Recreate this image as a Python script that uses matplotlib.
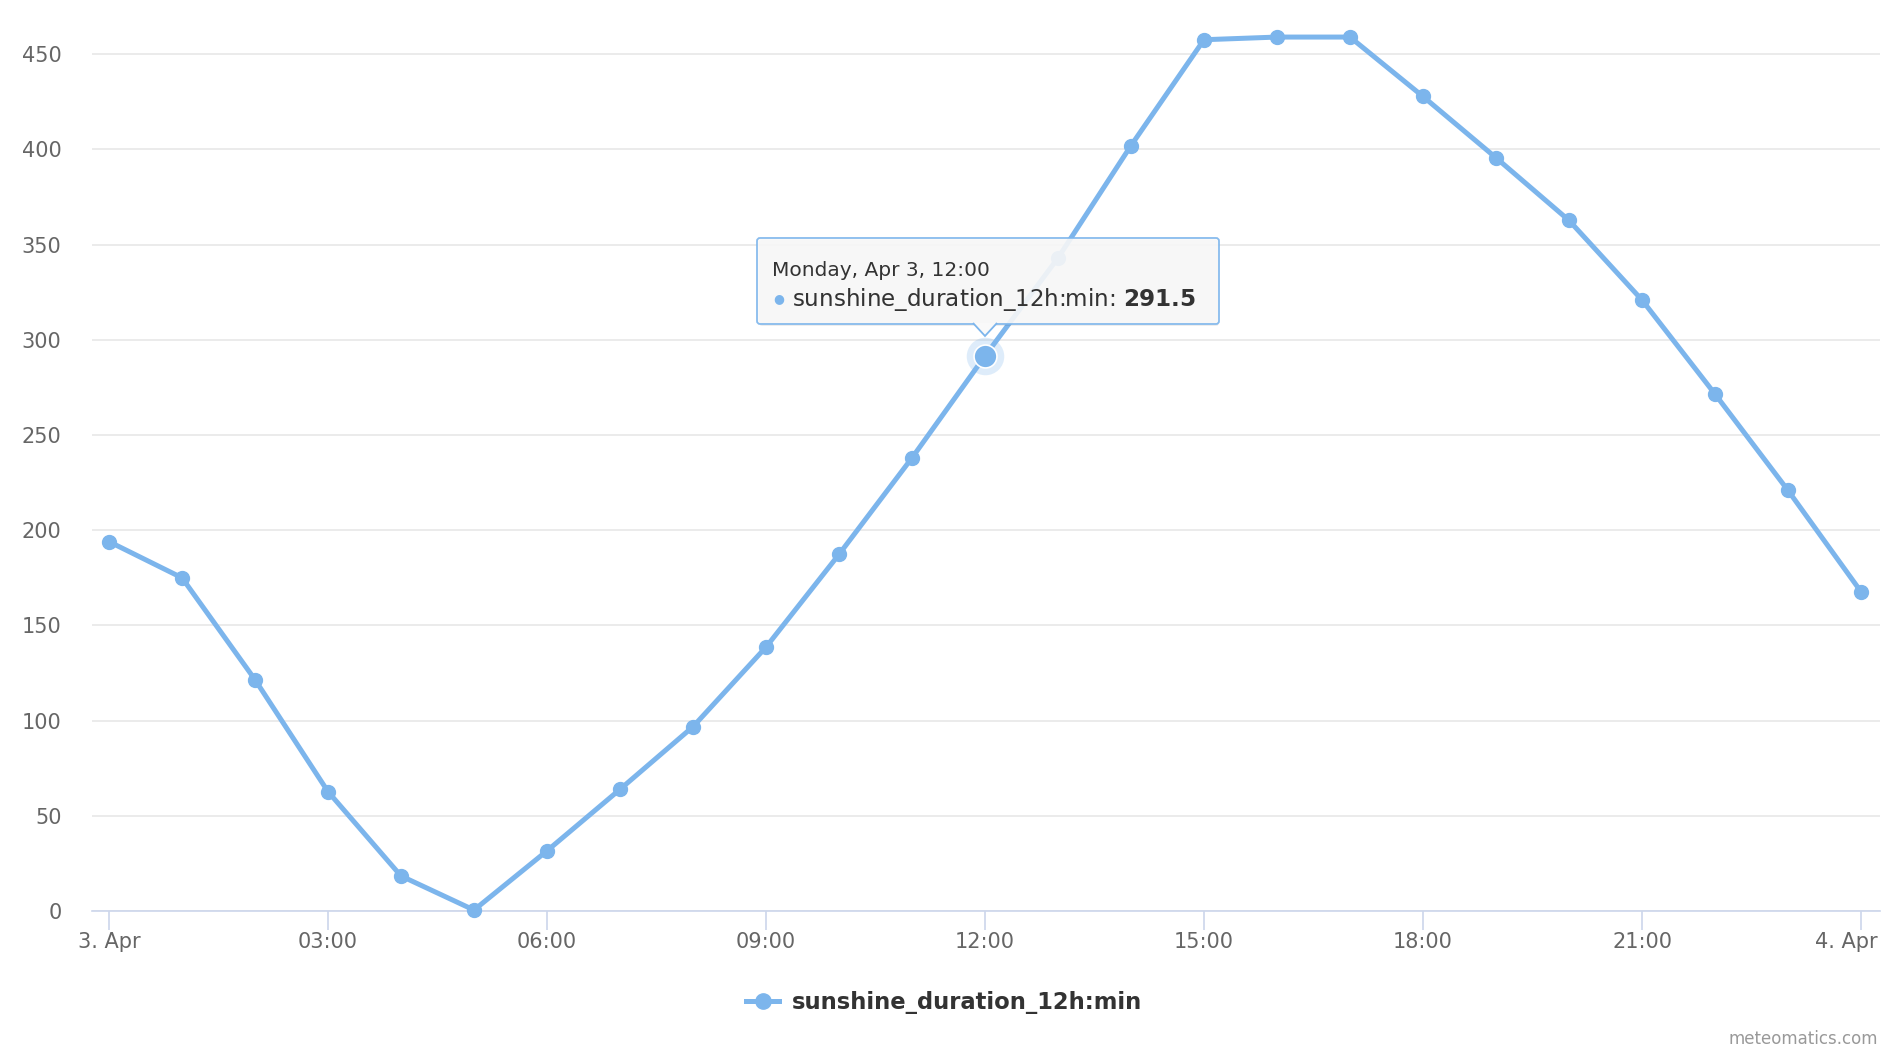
import numpy as np
import matplotlib.pyplot as plt
from matplotlib.lines import Line2D
from matplotlib.patches import FancyBboxPatch, Polygon
from matplotlib.transforms import ScaledTranslation

# ==========================================
# Données : durée d'ensoleillement (min) par heure
# ==========================================
hours = list(range(25))
sunshine = [194, 175, 121.5, 62.7, 18.4, 0.5, 31.6, 63.9, 96.8, 138.6, 187.3, 238,
            291.5, 343, 402, 457.6, 459, 459, 427.8, 395.6, 362.7, 320.9, 271.5,
            220.9, 167.7]
tick_hours = [0, 3, 6, 9, 12, 15, 18, 21, 24]
tick_labels = ['3. Apr', '03:00', '06:00', '09:00', '12:00', '15:00', '18:00', '21:00', '4. Apr']
y_ticks = [0, 50, 100, 150, 200, 250, 300, 350, 400, 450]
series_name = 'sunshine_duration_12h:min'
hover_idx = 12
tooltip_title = 'Monday, Apr 3, 12:00'

blue = '#7cb5ec'
W, H = 1888, 1054

fig = plt.figure(figsize=(W / 100, H / 100), dpi=100)
ax = fig.add_axes([92 / W, 143 / H, (1880 - 92) / W, (911 - 10) / H])

ax.plot(hours, sunshine, '-o', color=blue, lw=3.6, ms=10, zorder=3, clip_on=False)

# point survolé (halo + gros marqueur)
hx, hy = hours[hover_idx], sunshine[hover_idx]
ax.plot(hx, hy, 'o', color=blue, ms=27, alpha=0.25, mec='none', zorder=4)
ax.plot(hx, hy, 'o', color=blue, ms=16.5, mec='white', mew=1.2, zorder=5)

ax.set_xlim(-17 / 73, 24 + 19 / 73)
ax.set_ylim(0, (911 - 10) / 1.904)
ax.set_xticks(tick_hours)
ax.set_xticklabels(tick_labels)
ax.set_yticks(y_ticks)

for s in ['top', 'right', 'left']:
    ax.spines[s].set_visible(False)
ax.spines['bottom'].set_color('#ccd6eb')
ax.spines['bottom'].set_linewidth(1.2)
ax.grid(axis='y', color='#e6e6e6', lw=1.1, zorder=0)
ax.set_axisbelow(True)
ax.tick_params(axis='x', length=14, width=1.2, color='#ccd6eb', pad=0.8,
               labelsize=15, labelcolor='#666666')
ax.tick_params(axis='y', length=0, pad=22, labelsize=15, labelcolor='#666666')

# dernière étiquette alignée à droite (comme Highcharts)
last = ax.get_xticklabels()[-1]
last.set_horizontalalignment('right')
last.set_transform(last.get_transform() + ScaledTranslation(17 / 100, 0, fig.dpi_scale_trans))

# ==========================================
# Infobulle
# ==========================================
fig.canvas.draw()
px, py = ax.transData.transform((hx, hy))
tip = dict(transform=None, zorder=10)
shadow = FancyBboxPatch((px - 226, py + 30), 460, 86, boxstyle='round,pad=0,rounding_size=3',
                        fc='black', ec='none', alpha=0.07, **tip)
fig.patches.append(shadow)
box = FancyBboxPatch((px - 228, py + 32), 462, 86, boxstyle='round,pad=0,rounding_size=3',
                     fc='#f9f9f9', ec=blue, lw=1.3, alpha=0.9, **tip)
fig.patches.append(box)
arrow = Polygon([[px - 12, py + 33], [px, py + 20], [px + 12, py + 33]], closed=False,
                fc='#f9f9f9', ec=blue, lw=1.3, **tip)
fig.patches.append(arrow)
fig.text((px - 213) / W, (py + 80) / H, tooltip_title, fontsize=14.5, color='#333333',
         va='baseline', zorder=11)
fig.text((px - 206) / W, (py + 57) / H, '\u25cf', fontsize=9, color=blue,
         va='center', ha='center', zorder=11)
fig.text((px - 193) / W, (py + 50) / H,
         series_name + ': ' + r'$\mathbf{' + str(hy) + '}$', fontsize=16.6, color='#333333',
         va='baseline', zorder=11)

# ==========================================
# Légende et crédit
# ==========================================
handle = Line2D([], [], color=blue, lw=3.6, marker='o', ms=11)
fig.legend([handle], [series_name], loc='center', bbox_to_anchor=(0.5, 1 - 1002 / H),
           frameon=False, handlelength=1.45, handletextpad=0.55,
           prop=dict(weight='bold', size=16.3))
for t in fig.legends[0].get_texts():
    t.set_color('#333333')

fig.text(1878 / W, 1 - 1044 / H, 'meteomatics.com', ha='right', va='baseline',
         fontsize=12, color='#999999')

fig.savefig('out.png', dpi=100)
